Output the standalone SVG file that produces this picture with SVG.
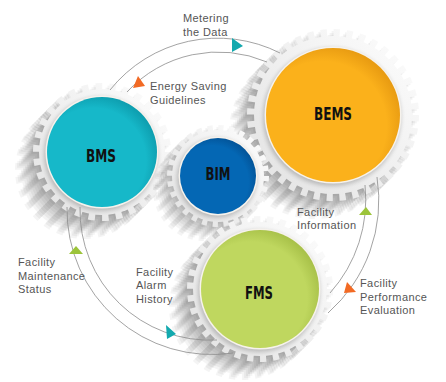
<svg xmlns="http://www.w3.org/2000/svg" xmlns:xlink="http://www.w3.org/1999/xlink" width="446" height="382" viewBox="0 0 446 382">
<style>
.lbl{font-family:"Liberation Sans",Arial,sans-serif;font-size:11px;fill:#555;letter-spacing:0.4px}
.nm{font-family:"DejaVu Sans Condensed","DejaVu Sans",sans-serif;font-weight:bold;font-size:17px;fill:#111;text-anchor:middle}
.con{fill:none;stroke:#8c8c8c;stroke-width:0.8}
.sh use{fill:#000;stroke:#000;opacity:0.04}
.gear{fill:url(#gearG);stroke:url(#gearG)}
.rim{fill:#f6f2ec}
.cs{fill:#000;opacity:0.2}
</style>
<defs>
<linearGradient id="gearG" x1="1" y1="0" x2="0" y2="1">
<stop offset="0" stop-color="#fdfdfd"/><stop offset="1" stop-color="#e2e2e2"/>
</linearGradient>
<radialGradient id="cBEMS" cx="0.42" cy="0.58" r="0.6"><stop offset="0.8" stop-color="#fbb11b"/><stop offset="1" stop-color="#e99c12"/></radialGradient>
<radialGradient id="cBMS" cx="0.42" cy="0.58" r="0.6"><stop offset="0.8" stop-color="#16b8c9"/><stop offset="1" stop-color="#0e9fb0"/></radialGradient>
<radialGradient id="cBIM" cx="0.42" cy="0.58" r="0.6"><stop offset="0.8" stop-color="#0467b4"/><stop offset="1" stop-color="#03559a"/></radialGradient>
<radialGradient id="cFMS" cx="0.42" cy="0.58" r="0.6"><stop offset="0.8" stop-color="#bfd75f"/><stop offset="1" stop-color="#a9c24a"/></radialGradient>
<filter id="blur" x="-20%" y="-20%" width="140%" height="140%"><feGaussianBlur stdDeviation="2"/></filter>
<g id="tBEMS"><circle r="79" stroke="none"/><circle r="82" fill="none" stroke-width="8" stroke-dasharray="6.2 6.6805"/></g>
<g id="tBMS"><circle r="63" stroke="none"/><circle r="65.5" fill="none" stroke-width="7" stroke-dasharray="6.6 7.118"/></g>
<g id="tBIM"><circle r="46" stroke="none"/><circle r="48" fill="none" stroke-width="6" stroke-dasharray="5.2 5.571"/></g>
<g id="tFMS"><circle r="67" stroke="none"/><circle r="69.5" fill="none" stroke-width="7" stroke-dasharray="6.2 6.644"/></g>
</defs>

<g id="bems">
<g class="sh" transform="translate(333,115)">
<use href="#tBEMS" x="-2" y="2"/><use href="#tBEMS" x="-4" y="4"/><use href="#tBEMS" x="-6" y="6"/><use href="#tBEMS" x="-8" y="8"/><use href="#tBEMS" x="-10" y="10"/><use href="#tBEMS" x="-12" y="12"/><use href="#tBEMS" x="-14" y="14"/><use href="#tBEMS" x="-16" y="16"/><use href="#tBEMS" x="-18" y="18"/>
</g>
<use href="#tBEMS" x="333" y="115" class="gear"/>
<circle class="cs" cx="332" cy="117" r="69" filter="url(#blur)"/>
<circle class="rim" cx="333" cy="115" r="68.5"/>
<circle cx="333" cy="115" r="67" fill="url(#cBEMS)"/>
<text class="nm" x="333" y="120" textLength="38" lengthAdjust="spacingAndGlyphs">BEMS</text>
</g>

<g id="bms">
<g class="sh" transform="translate(102,152)">
<use href="#tBMS" x="-2" y="2"/><use href="#tBMS" x="-4" y="4"/><use href="#tBMS" x="-6" y="6"/><use href="#tBMS" x="-8" y="8"/><use href="#tBMS" x="-10" y="10"/><use href="#tBMS" x="-12" y="12"/><use href="#tBMS" x="-14" y="14"/><use href="#tBMS" x="-16" y="16"/><use href="#tBMS" x="-18" y="18"/>
</g>
<use href="#tBMS" x="102" y="152" class="gear"/>
<circle class="cs" cx="101" cy="154" r="57" filter="url(#blur)"/>
<circle class="rim" cx="102" cy="152" r="56.5"/>
<circle cx="102" cy="152" r="55" fill="url(#cBMS)"/>
<text class="nm" x="101" y="161.5" textLength="30" lengthAdjust="spacingAndGlyphs">BMS</text>
</g>

<g id="bim">
<g class="sh" transform="translate(218,176)">
<use href="#tBIM" x="-2" y="2"/><use href="#tBIM" x="-4" y="4"/><use href="#tBIM" x="-6" y="6"/><use href="#tBIM" x="-8" y="8"/><use href="#tBIM" x="-10" y="10"/><use href="#tBIM" x="-12" y="12"/><use href="#tBIM" x="-14" y="14"/>
</g>
<use href="#tBIM" x="218" y="176" class="gear"/>
<circle class="cs" cx="217" cy="178" r="40" filter="url(#blur)"/>
<circle class="rim" cx="218" cy="176" r="39.5"/>
<circle cx="218" cy="176" r="38" fill="url(#cBIM)"/>
<text class="nm" x="218" y="180" textLength="25" lengthAdjust="spacingAndGlyphs">BIM</text>
</g>

<g id="fms">
<g class="sh" transform="translate(260,289)">
<use href="#tFMS" x="-2" y="2"/><use href="#tFMS" x="-4" y="4"/><use href="#tFMS" x="-6" y="6"/><use href="#tFMS" x="-8" y="8"/><use href="#tFMS" x="-10" y="10"/><use href="#tFMS" x="-12" y="12"/><use href="#tFMS" x="-14" y="14"/><use href="#tFMS" x="-16" y="16"/><use href="#tFMS" x="-18" y="18"/>
</g>
<use href="#tFMS" x="260" y="289" class="gear"/>
<circle class="cs" cx="259" cy="291" r="61" filter="url(#blur)"/>
<circle class="rim" cx="260" cy="289" r="60.5"/>
<circle cx="260" cy="289" r="59" fill="url(#cFMS)"/>
<text class="nm" x="259" y="299" textLength="28" lengthAdjust="spacingAndGlyphs">FMS</text>
</g>

<g id="connectors">
<path class="con" d="M110,90 A138,138 0 0 1 280,53"/>
<path class="con" d="M127,92 A124,124 0 0 1 267,62"/>
<path class="con" d="M365,185 A140,140 0 0 1 330,293"/>
<path class="con" d="M377,177 A150,150 0 0 1 328,313"/>
<path class="con" d="M67,207 A145,145 0 0 0 233,353"/>
<path class="con" d="M80,207 A130,130 0 0 0 217,340"/>
<polygon points="232,38 232,52 243,46" fill="#13a9ae"/>
<polygon points="138,76 133,88 145,86" fill="#f26a24"/>
<polygon points="166,325 167,339 176,334" fill="#13a9ae"/>
<polygon points="76,246 69,254 83,254" fill="#9cc43a"/>
<polygon points="366,207 359,215 372,215" fill="#9cc43a"/>
<polygon points="347,282 344,293 356,292" fill="#f26a24"/>
</g>

<g id="labels">
<text class="lbl" x="183" y="22">Metering</text>
<text class="lbl" x="183" y="36">the Data</text>
<text class="lbl" x="150" y="90">Energy Saving</text>
<text class="lbl" x="150" y="103.5">Guidelines</text>
<text class="lbl" x="297" y="215.5">Facility</text>
<text class="lbl" x="297" y="229">Information</text>
<text class="lbl" x="18" y="266">Facility</text>
<text class="lbl" x="18" y="279.5">Maintenance</text>
<text class="lbl" x="18" y="293">Status</text>
<text class="lbl" x="136" y="275.5">Facility</text>
<text class="lbl" x="136" y="289">Alarm</text>
<text class="lbl" x="136" y="302.5">History</text>
<text class="lbl" x="360" y="287">Facility</text>
<text class="lbl" x="360" y="300.5">Performance</text>
<text class="lbl" x="360" y="314">Evaluation</text>
</g>
</svg>
